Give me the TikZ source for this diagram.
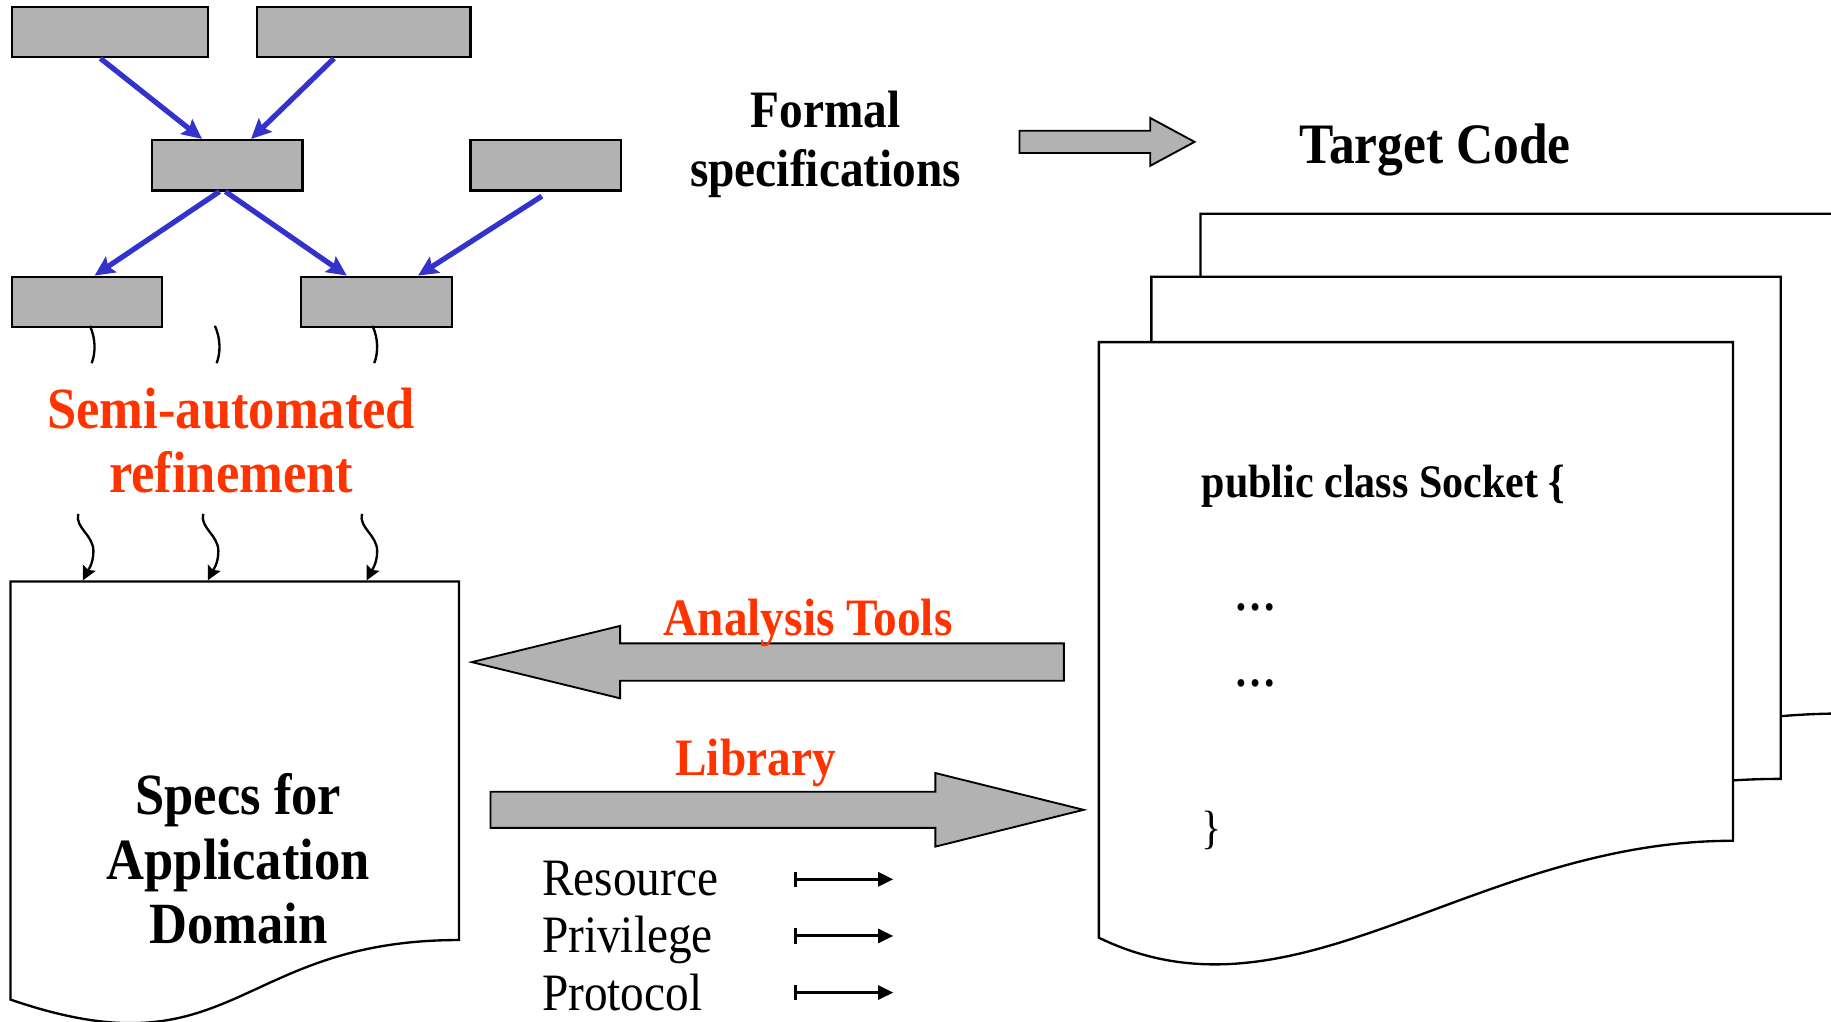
\documentclass[tikz,border=0pt]{standalone}
\usepackage{fontspec}
\setmainfont{Liberation Serif}[FakeStretch=0.9]
\usetikzlibrary{arrows.meta}
\definecolor{boxgray}{RGB}{178,178,178}
\definecolor{refblue}{RGB}{51,51,204}
\definecolor{refred}{RGB}{255,51,0}
\newcommand{\txt}[2]{\fontsize{#1}{#2}\selectfont}
\begin{document}
\begin{tikzpicture}[x=1pt,y=-1pt,
  graybox/.style={draw=black, line width=2pt, fill=boxgray, anchor=north west, minimum height=43pt, inner sep=0pt},
  flow/.style={draw=refblue, line width=4.5pt, -{Stealth[length=17pt,width=16pt,inset=3pt]}},
  blockarrow/.style={draw=black, line width=1.6pt, fill=boxgray, line join=miter},
  page/.style={draw=black, line width=2pt, fill=white},
  squig/.style={draw=black, line width=2pt},
  squigarrow/.style={squig, -{Stealth[length=12pt,width=12pt,inset=2pt]}},
  maparrow/.style={draw=black, line width=2.5pt, {Bar[width=13pt]}-{Triangle[length=13pt,width=12pt]}},
  label/.style={inner sep=0pt, text=black}]
\useasboundingbox (0,0) rectangle (1568,875);
\clip (0,0) rectangle (1568,875);

% refinement tree
\node[graybox, minimum width=168pt] (A) at (9,5) {};
\node[graybox, minimum width=183pt] (B) at (219,5) {};
\node[graybox, minimum width=129pt] (C) at (129,119) {};
\node[graybox, minimum width=129pt] (D) at (402,119) {};
\node[graybox, minimum width=129pt] (E) at (9,236) {};
\node[graybox, minimum width=129pt] (F) at (257,236) {};

\draw[flow] ([xshift=-8pt]A.south) -- ([xshift=-21.5pt]C.north);
\draw[flow] ([xshift=-25.5pt]B.south) -- ([xshift=20.5pt]C.north);
\draw[flow] ([xshift=-6.5pt]C.south) -- ([xshift=6.5pt]E.north);
\draw[flow] ([xshift=-1.5pt]C.south) -- ([xshift=-25.5pt]F.north);
\draw[flow] ([xshift=-3.5pt,yshift=-4pt]D.south) -- ([xshift=35.5pt]F.north);

% wavy strokes around the refinement label
\foreach \x in {77,184,319}
  \draw[squig] (\x,279) .. controls (\x+5,290) and (\x+5,302) .. (\x+1.5,311);
\node[label, text=refred, font=\txt{50}{55}\bfseries, align=center] (refine) at (198,377.5) {Semi-automated\\refinement};

% specification document
\draw[page] (9,498) -- (393,498) -- (393,805) .. controls (201,805) and (201,922) .. (9,856) -- cycle;
\foreach \x in {67,174,310}
  \draw[squigarrow] (\x,440) .. controls (\x-3,452) and (\x+13,458) .. (\x+13,472)
                    .. controls (\x+13,483) and (\x+8,489) .. (\x+4,497);
\node[label, font=\txt{50}{55}\bfseries, align=center] (specs) at (204,735.5) {Specs for\\Application\\Domain};

% formal specifications to target code
\node[label, font=\txt{45}{50}\bfseries, align=center] (formal) at (707,123.5) {Formal\\specifications};
\draw[blockarrow] (873,112) -- (985,112) -- (985,101) -- (1023,121.5) -- (985,142) -- (985,131) -- (873,131) -- cycle;
\node[label, font=\txt{49}{55}\bfseries, anchor=base] (target) at (1229,140) {Target Code};

% stack of code pages
\draw[page] (1028,183) -- (1580,183) -- (1580,611) .. controls (1304,611) and (1304,774) .. (1028,681.5) -- cycle;
\draw[page] (986,237) -- (1525,237) -- (1525,667) .. controls (1255,667) and (1255,830) .. (986,737) -- cycle;
\draw[page] (941,293) -- (1484,293) -- (1484,720) .. controls (1260,720) and (1110,885) .. (941,803) -- cycle;
\node[label, font=\txt{40}{45}\bfseries, anchor=base west] (socket) at (1029,426) {public class Socket \{};
\node[label, font=\txt{40}{45}\bfseries, anchor=base west] (dotsa) at (1057,523) {…};
\node[label, font=\txt{40}{45}\bfseries, anchor=base west] (dotsb) at (1057,588) {…};
\node[label, font=\txt{40}{45}, anchor=base west] (brace) at (1029,722) {\}};

% analysis and library arrows
\draw[blockarrow] (911,551) -- (531,551) -- (531,536) -- (404,567) -- (531,598) -- (531,583) -- (911,583) -- cycle;
\node[label, text=refred, font=\txt{45}{50}\bfseries, anchor=base] (analysis) at (692,544) {Analysis Tools};
\draw[blockarrow] (420,678) -- (801,678) -- (801,662) -- (928,693.5) -- (801,725) -- (801,709) -- (420,709) -- cycle;
\node[label, text=refred, font=\txt{45}{50}\bfseries, anchor=base] (library) at (647,664) {Library};

% library contents
\node[label, font=\txt{45}{49}, anchor=base west] (res) at (464,767) {Resource};
\node[label, font=\txt{45}{49}, anchor=base west] (priv) at (464,816) {Privilege};
\node[label, font=\txt{45}{49}, anchor=base west] (proto) at (464,865) {Protocol};
\coordinate (resa) at (680,753);   \coordinate (resb) at (765,753);
\coordinate (priva) at (680,801.5); \coordinate (privb) at (765,801.5);
\coordinate (protoa) at (680,850); \coordinate (protob) at (765,850);
\draw[maparrow] (resa) -- (resb);
\draw[maparrow] (priva) -- (privb);
\draw[maparrow] (protoa) -- (protob);
\end{tikzpicture}
\end{document}
